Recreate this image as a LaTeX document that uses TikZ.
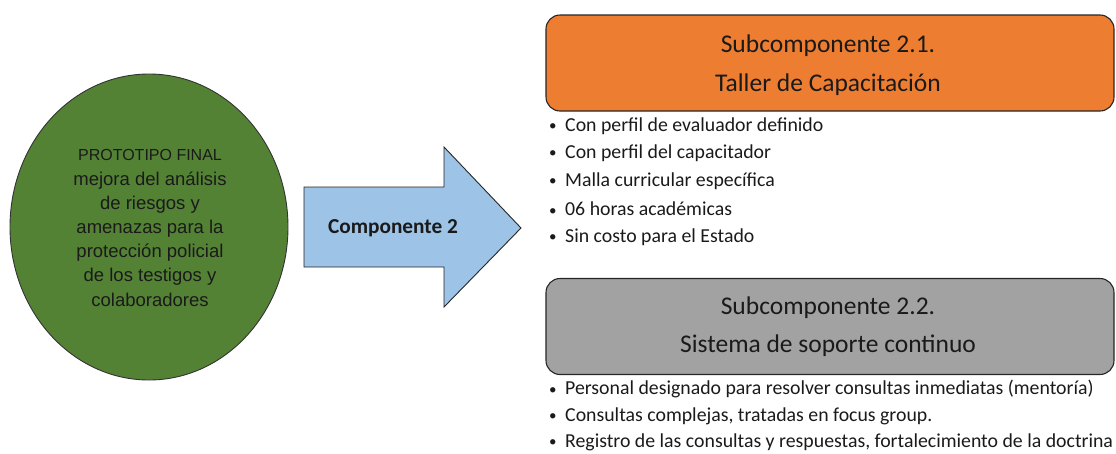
\documentclass[tikz,border=0pt]{standalone}
\usepackage{fontspec}
\setmainfont{Carlito}
\newfontfamily\arialf{Liberation Sans}
\usetikzlibrary{shapes.geometric}
\definecolor{orangeF}{HTML}{ED7D31}
\definecolor{grayF}{HTML}{A2A2A2}
\definecolor{greenF}{HTML}{548235}
\definecolor{blueF}{HTML}{9DC3E6}
\definecolor{txtD}{HTML}{1A1A1A}
\tikzset{
  subbox/.style={draw=black!85, line width=1.1pt, rounded corners=14pt, minimum width=568pt, minimum height=96pt, inner sep=0pt},
  subtitle/.style={align=center, font=\fontsize{25.5}{38.5}\selectfont, text=txtD},
  bul/.style={anchor=west, inner sep=0pt, font=\fontsize{19.8}{24}\selectfont, text=txtD},
}
\newcommand{\bl}[1]{\makebox[16pt][l]{\raisebox{0.5pt}{\fontsize{15}{15}\selectfont •}}#1}
\begin{document}
\begin{tikzpicture}[x=1pt,y=-1pt]
\useasboundingbox (0,0) rectangle (1116,453);
% ellipse
\node (proto) [ellipse, draw=black!80, line width=0.9pt, fill=greenF, minimum width=278pt, minimum height=306pt, inner sep=0pt] at (149,227) {};
\node (prototxt) [align=center, text=txtD, inner sep=0pt, font=\arialf\fontsize{18.5}{24.2}\selectfont] at (150,228)
  {{\fontsize{16}{24.2}\selectfont PROTOTIPO FINAL}\\
   mejora del análisis\\
   de riesgos y\\
   amenazas para la\\
   protección policial\\
   de los testigos y\\
   colaboradores};
% block arrow
\draw[draw=black!85, line width=0.9pt, fill=blueF]
  (304,187) -- (444,187) -- (444,147) -- (521,228) -- (444,307) -- (444,267) -- (304,267) -- cycle;
\node (comp) [font=\bfseries\fontsize{21.3}{24}\selectfont, text=txtD] at (393,228) {Componente 2};
% subcomponent 2.1
\node (s1) [subbox, fill=orangeF] at (830,63) {};
\node (s1t) [subtitle] at (828,65) {Subcomponente 2.1.\\Taller de Capacitación};
\node (b11) [bul] at (549,126) {\bl{Con perfil de evaluador definido}};
\node (b12) [bul] at (549,153) {\bl{Con perfil del capacitador}};
\node (b13) [bul] at (549,181) {\bl{Malla curricular específica}};
\node (b14) [bul] at (549,209) {\bl{06 horas académicas}};
\node (b15) [bul] at (549,237) {\bl{Sin costo para el Estado}};
% subcomponent 2.2
\node (s2) [subbox, fill=grayF] at (830,326.5) {};
\node (s2t) [subtitle] at (828,326.5) {Subcomponente 2.2.\\Sistema de soporte continuo};
\node (b21) [bul] at (549,389) {\bl{Personal designado para resolver consultas inmediatas (mentoría)}};
\node (b22) [bul] at (549,416) {\bl{Consultas complejas, tratadas en focus group.}};
\node (b23) [bul] at (549,442) {\bl{Registro de las consultas y respuestas, fortalecimiento de la doctrina}};
\end{tikzpicture}
\end{document}
